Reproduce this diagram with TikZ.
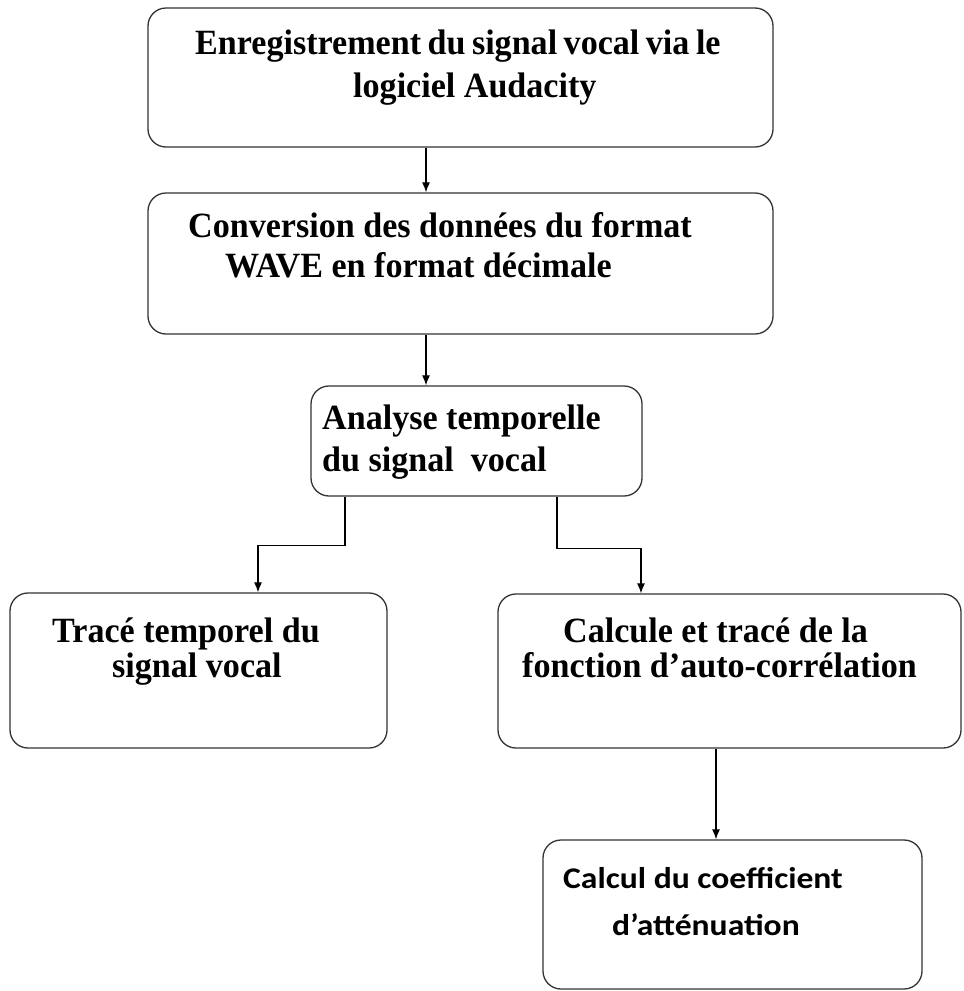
\documentclass[tikz,border=0pt]{standalone}
\usepackage{fontspec}
\usetikzlibrary{arrows.meta}
\newfontfamily\boxserif{Liberation Serif}[FakeStretch=0.96]
\newfontfamily\boxsans{Carlito}[FakeStretch=1.12]

\begin{document}
\begin{tikzpicture}[x=1pt, y=-1pt,
  stepbox/.style={draw=black!80, line width=1.3pt, rounded corners=18pt,
    inner sep=0pt},
  steptext/.style={anchor=base west, inner sep=0pt,
    font=\boxserif\bfseries\fontsize{35.5}{42}\selectfont},
  steptextsf/.style={anchor=base west, inner sep=0pt,
    font=\boxsans\bfseries\fontsize{30}{36}\selectfont},
  flow/.style={line width=1.2pt, -{Latex[length=10pt, width=8pt]}}]

  \useasboundingbox (0,0) rectangle (964,991);

  % Recording
  \node[stepbox, minimum width=625pt, minimum height=139pt] (rec) at (460.5,77.5) {};
  \node[steptext] (rec1) at (195,54) {\spaceskip=6.5pt\relax Enregistrement du signal vocal via le};
  \node[steptext] (rec2) at (353,97) {logiciel Audacity};

  % Conversion WAVE -> decimal
  \node[stepbox, minimum width=625pt, minimum height=141pt] (conv) at (460.5,263.5) {};
  \node[steptext] (conv1) at (188,237) {Conversion des données du format};
  \node[steptext] (conv2) at (225,277) {WAVE en format décimale};

  % Time analysis
  \node[stepbox, minimum width=331pt, minimum height=110pt] (ana) at (476.5,441) {};
  \node[steptext] (ana1) at (322,429) {Analyse temporelle};
  \node[steptext] (ana2) at (322,471) {du signal\ \ vocal};

  % Left branch
  \node[stepbox, minimum width=377pt, minimum height=155pt] (trace) at (198.5,670.5) {};
  \node[steptext] (trace1) at (52,642) {Tracé temporel du};
  \node[steptext] (trace2) at (112,677) {signal vocal};

  % Right branch
  \node[stepbox, minimum width=463pt, minimum height=154pt] (autoc) at (729.5,671) {};
  \node[steptext] (autoc1) at (563,642) {Calcule et tracé de la};
  \node[steptext] (autoc2) at (522,677) {fonction d’auto-corrélation};

  % Attenuation coefficient
  \node[stepbox, minimum width=379pt, minimum height=149pt] (coef) at (732.5,914.5) {};
  \node[steptextsf] (coef1) at (563,888) {Calcul du coefficient};
  \node[steptextsf] (coef2) at (612,935) {d’atténuation};

  % Arrows
  \draw[flow] ([xshift=-34.5pt]rec.south) -- ([xshift=-34.5pt]rec.south |- conv.north);
  \draw[flow] ([xshift=-34.5pt]conv.south) -- ([xshift=-34.5pt]conv.south |- ana.north);
  \draw[flow] ([xshift=-131.5pt]ana.south) -- ++(0,49) -| ([xshift=59.5pt]trace.north);
  \draw[flow] ([xshift=80.5pt]ana.south) -- ++(0,52) -| ([xshift=-88.5pt]autoc.north);
  \draw[flow] ([xshift=-13.5pt]autoc.south) -- ([xshift=-13.5pt]autoc.south |- coef.north);

\end{tikzpicture}
\end{document}
